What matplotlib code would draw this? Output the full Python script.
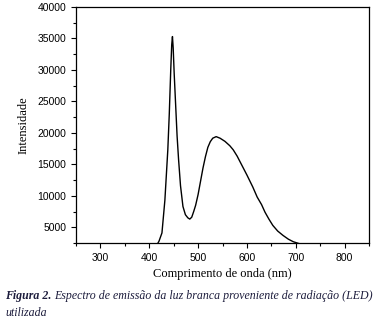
import numpy as np
import matplotlib
matplotlib.use("Agg")
import matplotlib.pyplot as plt
from matplotlib.ticker import MultipleLocator
from matplotlib.transforms import offset_copy

# Espectro de emissão da luz branca (LED)
wavelength = [400, 410, 415, 420, 426, 432, 438, 441, 444, 446, 447.5, 449,
              451, 454, 457, 460, 464, 469, 474, 479, 483, 487, 491, 495,
              500, 505, 510, 515, 520, 525, 530, 537, 545, 555, 565, 572,
              580, 590, 600, 612, 621, 630, 637, 645, 653, 663, 674, 685,
              695, 705, 720]
intensity = [1200, 1600, 2100, 2800, 4100, 9300, 17300, 23000, 30000, 34000,
             35300, 33500, 29500, 24500, 19500, 15800, 11600, 8300, 7000,
             6500, 6300, 6600, 7500, 8500, 10200, 12300, 14400, 16200, 17700,
             18600, 19150, 19400, 19150, 18650, 17950, 17300, 16300, 14800,
             13300, 11400, 9800, 8600, 7400, 6300, 5300, 4400, 3700, 3100,
             2700, 2450, 2100]

x_ticks = [300, 400, 500, 600, 700, 800]
y_ticks = [5000, 10000, 15000, 20000, 25000, 30000, 35000, 40000]

fig = plt.figure(figsize=(3.81, 3.26), dpi=100)
ax = fig.add_axes([0.1995, 0.2546, 0.769, 0.724])

ax.plot(wavelength, intensity, color="black", linewidth=1.0)

ax.set_xlim(250, 850)
ax.set_ylim(2500, 40000)
ax.set_xticks(x_ticks)
ax.set_yticks(y_ticks)
ax.xaxis.set_minor_locator(MultipleLocator(50))
ax.yaxis.set_minor_locator(MultipleLocator(2500))

ax.tick_params(which="both", direction="out", top=False, right=False,
               labelsize=7.5, width=0.8)
ax.tick_params(which="major", length=3.5)
ax.tick_params(which="minor", length=2)
for lab in ax.get_xticklabels() + ax.get_yticklabels():
    lab.set_fontfamily("Liberation Sans")

for sp in ax.spines.values():
    sp.set_linewidth(0.9)

ax.set_xlabel("Comprimento de onda (nm)", fontfamily="Liberation Serif",
              fontsize=9, labelpad=4)
ax.set_ylabel("Intensidade", fontfamily="Liberation Serif", fontsize=9,
              labelpad=6)

# legenda da figura
cap_color = "#1c1c3c"
cap_size = 8.55
t1 = fig.text(0.013, 1 - 296 / 326, "Figura 2.", fontfamily="Liberation Serif",
              fontstyle="italic", fontweight="bold", fontsize=cap_size,
              color=cap_color, va="center", ha="left")
fig.canvas.draw()
bb = t1.get_window_extent()
x_next = (bb.x1 + 3) / fig.bbox.width
fig.text(x_next, 1 - 296 / 326,
         "Espectro de emissão da luz branca proveniente de radiação (LED)",
         fontfamily="Liberation Serif", fontstyle="italic", fontsize=cap_size,
         color=cap_color, va="center", ha="left")
fig.text(0.013, 1 - 313 / 326, "utilizada", fontfamily="Liberation Serif",
         fontstyle="italic", fontsize=cap_size, color=cap_color, va="center",
         ha="left")

fig.savefig("out.png", dpi=100)
